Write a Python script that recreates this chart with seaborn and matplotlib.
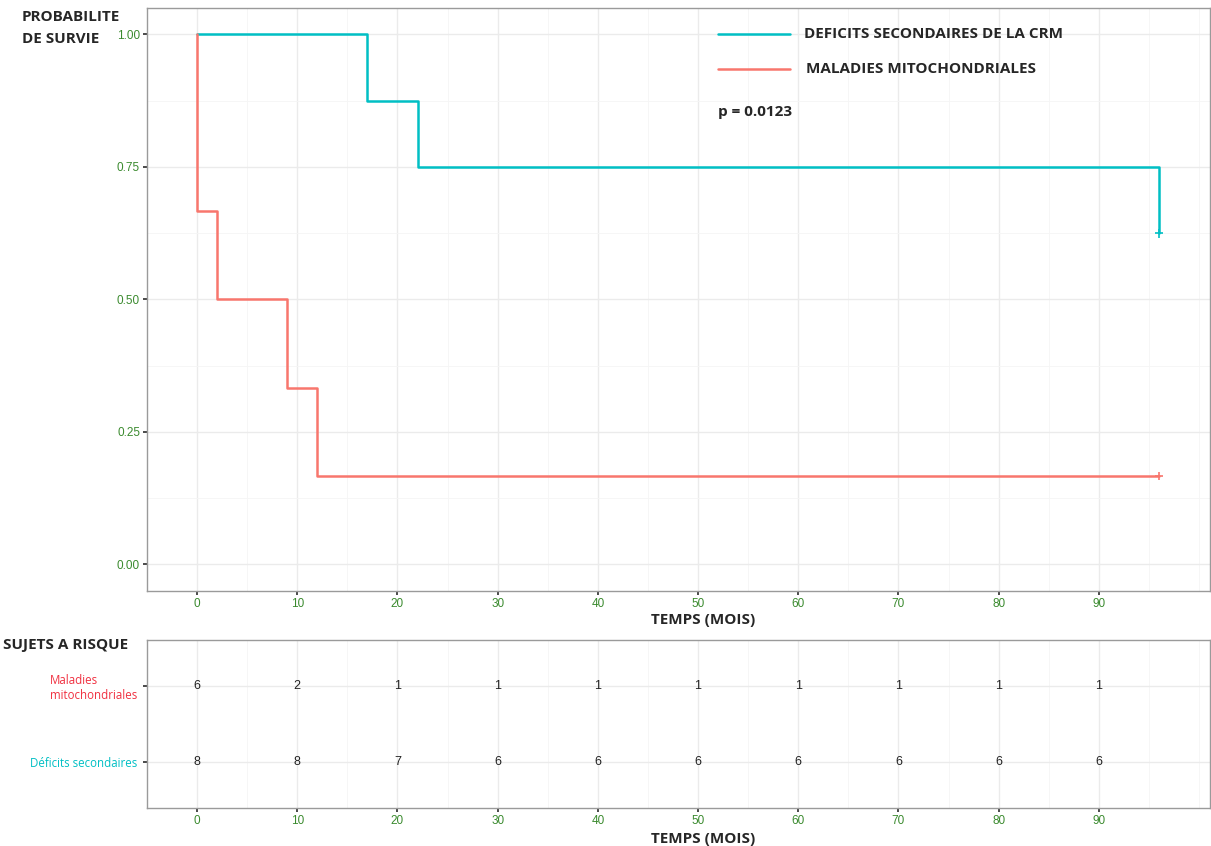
import numpy as np
import pandas as pd
import matplotlib
matplotlib.use("Agg")
import matplotlib.pyplot as plt
import seaborn as sns
from matplotlib.ticker import MultipleLocator

# Kaplan-Meier steps
crm_time = [0, 17, 22, 96, 96]
crm_surv = [1.0, 0.875, 0.75, 0.75, 0.625]
mito_time = [0, 0, 2, 9, 12, 96]
mito_surv = [1.0, 0.667, 0.5, 0.333, 0.167, 0.167]

# censor marks
cens_time = [96, 96]
cens_surv = [0.625, 0.167]
cens_group = ["crm", "mito"]

# risk table
risk_times = [0, 10, 20, 30, 40, 50, 60, 70, 80, 90]
risk_mito = [6, 2, 1, 1, 1, 1, 1, 1, 1, 1]
risk_crm = [8, 8, 7, 6, 6, 6, 6, 6, 6, 6]

teal = "#00BFC4"
red = "#F8766D"
tick_col = "#3a8a2e"
grid_col = "#ebebeb"
title_font = ["Open Sans", "DejaVu Sans"]

sns.set_theme(style="white")
plt.rcParams["font.family"] = ["Liberation Sans", "DejaVu Sans"]

fig = plt.figure(figsize=(12.11, 8.46), dpi=100)
ax = fig.add_axes([147 / 1211, 1 - 591 / 846, (1210 - 147) / 1211, (591 - 8) / 846])
ax2 = fig.add_axes([147 / 1211, 1 - 808 / 846, (1210 - 147) / 1211, (808 - 640) / 846])

df_crm = pd.DataFrame({"t": crm_time, "s": crm_surv})
df_mito = pd.DataFrame({"t": mito_time, "s": mito_surv})
sns.lineplot(data=df_crm, x="t", y="s", ax=ax, color=teal, lw=1.8,
             drawstyle="steps-post", sort=False, estimator=None)
sns.lineplot(data=df_mito, x="t", y="s", ax=ax, color=red, lw=1.8,
             drawstyle="steps-post", sort=False, estimator=None)
df_c = pd.DataFrame({"t": cens_time, "s": cens_surv, "g": cens_group})
sns.scatterplot(data=df_c, x="t", y="s", hue="g", palette={"crm": teal, "mito": red},
                marker="+", s=40, linewidth=1.2, ax=ax, legend=False)

for a in (ax, ax2):
    a.xaxis.set_major_locator(MultipleLocator(10))
    a.xaxis.set_minor_locator(MultipleLocator(5))
    a.grid(which="major", color=grid_col, lw=1.0)
    a.grid(which="minor", color="#f5f5f5", lw=0.6)
    a.set_axisbelow(True)
    for sp in a.spines.values():
        sp.set_color("#9a9a9a")
        sp.set_linewidth(1.0)
    a.tick_params(axis="both", which="major", length=3, color="#333333", pad=2,
                  labelsize=8.5, labelcolor=tick_col, bottom=True, left=True)
    a.tick_params(which="minor", length=0)
    a.set_xticks(risk_times)
    a.set_xlim(-5.0, 101.1)

ax.set_ylim(-0.05, 1.05)
ax.yaxis.set_minor_locator(MultipleLocator(0.125))
ax.set_yticks([0, 0.25, 0.5, 0.75, 1.0])
ax.set_yticklabels(["0.00", "0.25", "0.50", "0.75", "1.00"])
ax.set_ylabel("")
ax.set_xlabel("TEMPS (MOIS)", fontsize=11, fontweight="bold", family=title_font)
ax.xaxis.set_label_coords((703 - 147) / 1063, -0.037)

# legend drawn by hand
ax.plot([52.0, 59.2], [1.0, 1.0], color=teal, lw=1.8)
ax.plot([52.0, 59.2], [0.935, 0.935], color=red, lw=1.8)
ax.text(60.6, 1.0, "DEFICITS SECONDAIRES DE LA CRM", fontsize=11, fontweight="bold",
        family=title_font, va="center", ha="left")
ax.text(60.8, 0.935, "MALADIES MITOCHONDRIALES", fontsize=11, fontweight="bold",
        family=title_font, va="center", ha="left")
ax.text(52.0, 0.853, "p = 0.0123", fontsize=11, fontweight="bold",
        family=title_font, va="center", ha="left")

fig.text(22 / 1211, 1 - 17 / 846, "PROBABILITE", fontsize=11, fontweight="bold",
         family=title_font, va="center", ha="left")
fig.text(22 / 1211, 1 - 39 / 846, "DE SURVIE", fontsize=11, fontweight="bold",
         family=title_font, va="center", ha="left")

# risk table
for t, n in zip(risk_times, risk_mito):
    ax2.text(t, 2, str(n), ha="center", va="center", fontsize=9, color="#222222")
for t, n in zip(risk_times, risk_crm):
    ax2.text(t, 1, str(n), ha="center", va="center", fontsize=9, color="#222222")
ax2.set_ylim(0.4, 2.6)
ax2.set_yticks([1, 2])
ax2.set_yticklabels(["Déficits secondaires", "Maladies\nmitochondriales"],
                    family=title_font, fontsize=8.3)
ax2.tick_params(axis="y", pad=4)
lab = ax2.get_yticklabels()
lab[0].set_color(teal)
lab[1].set_color("#f03040")
lab[1].set_multialignment("left")
ax2.set_xlabel("TEMPS (MOIS)", fontsize=11, fontweight="bold", family=title_font)
ax2.xaxis.set_label_coords((703 - 147) / 1063, -0.14)
ax2.set_ylabel("")

fig.text(3 / 1211, 1 - 645 / 846, "SUJETS A RISQUE", fontsize=11, fontweight="bold",
         family=title_font, va="center", ha="left")

fig.savefig("out.png", dpi=100)
